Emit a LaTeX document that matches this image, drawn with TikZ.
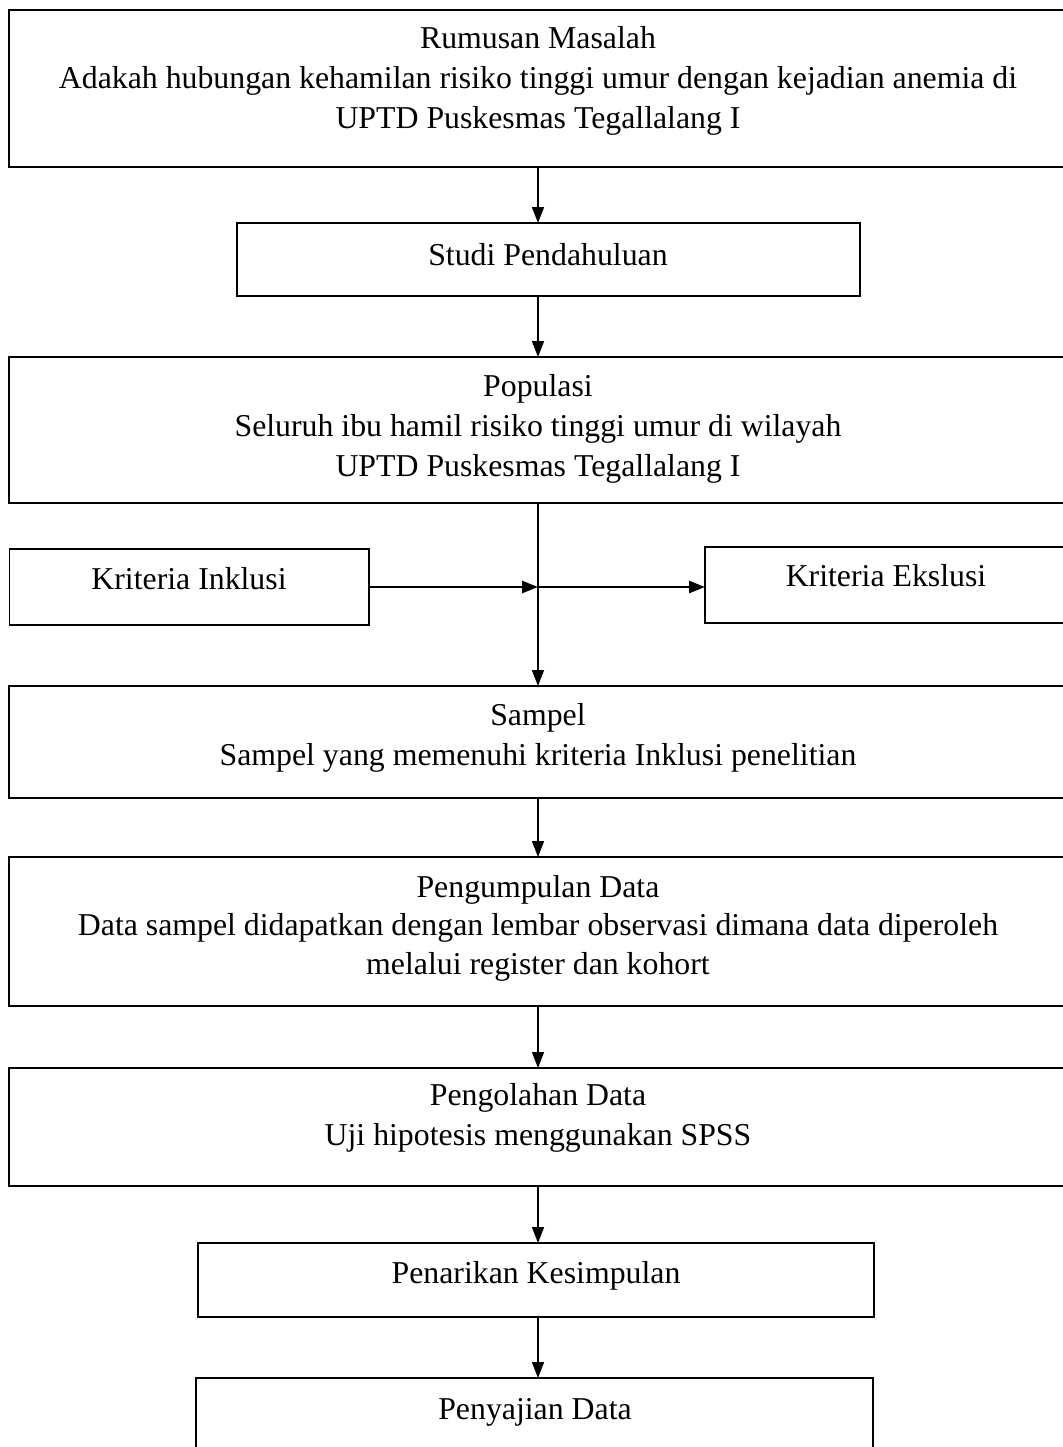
\documentclass[tikz,border=0pt]{standalone}
\usepackage{fontspec}
\setmainfont{Liberation Serif}
\usetikzlibrary{arrows.meta}
\tikzset{
  box/.style={draw=black, line width=0.9pt, rectangle, inner sep=0pt, outer sep=0pt},
  txt/.style={align=center, anchor=base, inner sep=0pt, font=\fontsize{15.9}{20}\selectfont},
  arr/.style={line width=0.8pt, -{Triangle[length=8pt, width=6pt]}},
  harr/.style={line width=1.3pt, -{Triangle[length=8pt, width=6pt]}},
  vline/.style={line width=0.8pt}
}
\begin{document}
\begin{tikzpicture}[x=0.5pt, y=-0.5pt]
\useasboundingbox (0,0) rectangle (1062,1447);
% boxes
\node[box, minimum width=529pt, minimum height=78.5pt] (b1) at (538,88.5) {};
\node[box, minimum width=311.5pt, minimum height=36.5pt] (b2) at (548.5,259.5) {};
\node[box, minimum width=529pt, minimum height=73pt] (b3) at (538,430) {};
\node[box, minimum width=179.75pt, minimum height=38pt] (inc) at (189.25,587) {};
\node[box, minimum width=181pt, minimum height=38pt] (exc) at (886,585) {};
\node[box, minimum width=529pt, minimum height=56pt] (b4) at (538,742) {};
\node[box, minimum width=529pt, minimum height=74.5pt] (b5) at (538,931.5) {};
\node[box, minimum width=529pt, minimum height=59pt] (b6) at (538,1127) {};
\node[box, minimum width=338pt, minimum height=37pt] (b7) at (536,1280) {};
\node[box, minimum width=338.5pt, minimum height=46pt] (b8) at (534.5,1424) {};
% texts (base anchor = baseline of last line)
\node[txt] (t1) at (538,128) {Rumusan Masalah\\Adakah hubungan kehamilan risiko tinggi umur dengan kejadian anemia di\\UPTD Puskesmas Tegallalang I};
\node[txt] (t2) at (548,265) {Studi Pendahuluan};
\node[txt] (t3) at (538,476) {Populasi\\Seluruh ibu hamil risiko tinggi umur di wilayah\\UPTD Puskesmas Tegallalang I};
\node[txt] (tinc) at (189,589) {Kriteria Inklusi};
\node[txt] (texc) at (886,586) {Kriteria Ekslusi};
\node[txt] (t4) at (538,765) {Sampel\\Sampel yang memenuhi kriteria Inklusi penelitian};
\node[txt, font=\fontsize{15.9}{19.2}\selectfont] (t5) at (538,974) {Pengumpulan Data\\Data sampel didapatkan dengan lembar observasi dimana data diperoleh\\melalui register dan kohort};
\node[txt] (t6) at (538,1145) {Pengolahan Data\\Uji hipotesis menggunakan SPSS};
\node[txt] (t7) at (536,1283) {Penarikan Kesimpulan};
\node[txt] (t8) at (535,1419) {Penyajian Data};
% junction
\coordinate (j) at (538,587);
% connectors
\draw[arr] (b1.south -| j) -- (b2.north -| j);
\draw[arr] (b2.south -| j) -- (b3.north -| j);
\draw[vline] (b3.south -| j) -- (j);
\draw[arr] (j) -- (b4.north -| j);
\draw[harr] (inc.east |- j) -- (j);
\draw[harr] (j) -- (exc.west |- j);
\draw[arr] (b4.south -| j) -- (b5.north -| j);
\draw[arr] (b5.south -| j) -- (b6.north -| j);
\draw[arr] (b6.south -| j) -- (b7.north -| j);
\draw[arr] (b7.south -| j) -- (b8.north -| j);
\end{tikzpicture}
\end{document}
